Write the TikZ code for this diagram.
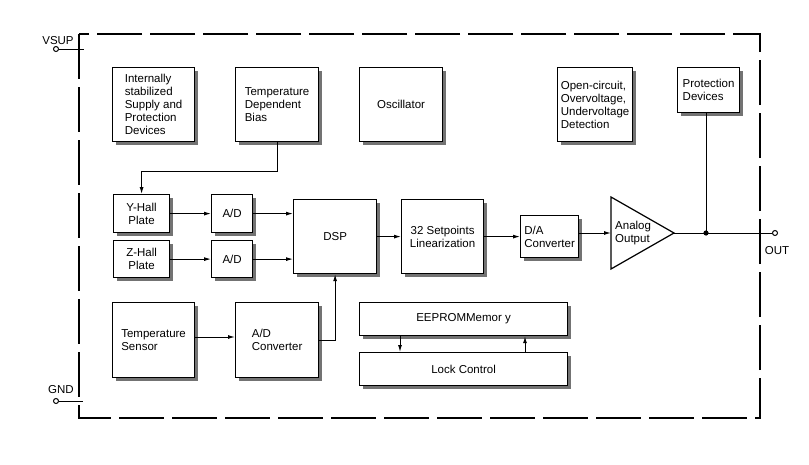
\documentclass[tikz,border=0pt]{standalone}
\usepackage{fontspec}
\setmainfont{Liberation Sans}
\usetikzlibrary{arrows.meta,calc}
\begin{document}
\begin{tikzpicture}[x=1pt,y=-1pt,
  every node/.style={font=\fontsize{11.5}{13}\selectfont},
  blk/.style={draw, line width=1.2pt, fill=white, inner sep=0pt, align=left,
    preaction={fill=black!55, transform canvas={shift={(3pt,-3pt)}}}},
  blkc/.style={blk, align=center},
  conn/.style={line width=1pt},
  arr/.style={conn, -{Latex[length=7pt,width=4pt]}},
  pin/.style={circle, draw, line width=1pt, fill=white, inner sep=0pt, minimum size=5pt},
  frame/.style={line width=2.6pt, dash pattern=on 45pt off 8pt}
]
\useasboundingbox (0,0) rectangle (809,464);
\draw[frame] (79,34) rectangle (760,418);

% top row
\node[blk, minimum width=82pt, minimum height=74pt, anchor=north west] (supply) at (112,67)
  {Internally\\stabilized\\Supply and\\Protection\\Devices};
\node[blk, minimum width=83pt, minimum height=74pt, anchor=north west] (bias) at (235,67)
  {Temperature\\Dependent\\Bias};
\node[blkc, minimum width=83pt, minimum height=74pt, anchor=north west] (osc) at (359,67)
  {Oscillator};
\node[blk, minimum width=75pt, minimum height=74pt, anchor=north west] (ocd) at (557,67)
  {Open-circuit,\\Overvoltage,\\Undervoltage\\Detection};
\node[blk, minimum width=62pt, minimum height=45pt, anchor=north west] (prot) at (677,67)
  {Protection\\Devices};

% middle row
\node[blkc, minimum width=56pt, minimum height=38pt, anchor=north west] (yhall) at (113,194)
  {Y-Hall\\Plate};
\node[blkc, minimum width=56pt, minimum height=37pt, anchor=north west] (zhall) at (113,240)
  {Z-Hall\\Plate};
\node[blkc, minimum width=41pt, minimum height=38pt, anchor=north west] (ady) at (211,194)
  {A/D};
\node[blkc, minimum width=41pt, minimum height=37pt, anchor=north west] (adz) at (211,240)
  {A/D};
\node[blkc, minimum width=83pt, minimum height=74pt, anchor=north west] (dsp) at (293,199)
  {DSP};
\node[blkc, minimum width=82pt, minimum height=74pt, anchor=north west] (lin) at (401,199)
  {32 Setpoints\\Linearization};
\node[blk, minimum width=58pt, minimum height=42pt, anchor=north west] (da) at (520,215)
  {D/A\\Converter};

% analog output triangle
\draw[line width=1.2pt, fill=white] (611,197) -- (674,233) -- (611,269) -- cycle;
\coordinate (ain) at (611,233);
\coordinate (aout) at (674,233);
\node[align=left, anchor=west, inner sep=0pt] (aotxt) at (615,233) {Analog\\Output};
\coordinate (junc) at (706,233);

% bottom row
\node[blk, minimum width=82pt, minimum height=75pt, anchor=north west] (tsens) at (112,302)
  {Temperature\\Sensor};
\node[blk, minimum width=83pt, minimum height=75pt, anchor=north west] (adc) at (235,302)
  {A/D\\Converter};
\node[blkc, minimum width=208pt, minimum height=33pt, anchor=north west] (ee) at (359,302)
  {EEPROMMemor y};
\node[blkc, minimum width=208pt, minimum height=33pt, anchor=north west] (lock) at (359,352)
  {Lock Control};

% pins
\node[pin] (vsup) at (56,49) {};
\coordinate (vsupin) at (84,49);
\node (vsuplbl) at (58,41) {VSUP};
\node[pin] (gnd) at (56,401) {};
\coordinate (gndin) at (83,401);
\node (gndlbl) at (61,390) {GND};
\node[pin] (out) at (775,233) {};
\node (outlbl) at (777,251) {OUT};

\draw[conn] (vsup) -- (vsupin);
\draw[conn] (gnd) -- (gndin);

% connectors
\draw[arr] (bias.south) -- ++(0,29) -| (yhall.north);
\draw[arr] (yhall.east) -- (ady.west);
\draw[arr] (zhall.east) -- (adz.west);
\draw[arr] (ady.east) -- (ady.east -| dsp.west);
\draw[arr] (adz.east) -- (adz.east -| dsp.west);
\draw[arr] (dsp.east) -- (lin.west);
\draw[arr] (lin.east) -- (lin.east -| da.west);
\draw[arr] (da.east |- ain) -- (ain);
\draw[conn] (aout) -- (out);
\draw[conn] (prot.south -| junc) -- (junc);
\fill (junc) circle (2.6pt);
\draw[arr] (tsens.east |- 0,337) -- (adc.west |- 0,337);
\draw[arr] (adc.east) -| (dsp.south);
\draw[arr] ($(ee.south west)+(41,0)$) -- ($(lock.north west)+(41,0)$);
\draw[arr] ($(lock.north west)+(166,0)$) -- ($(ee.south west)+(166,0)$);
\end{tikzpicture}
\end{document}
